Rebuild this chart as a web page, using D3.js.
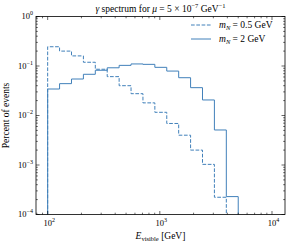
<!DOCTYPE html>
<html>
<head>
<meta charset="utf-8">
<script src="https://cdn.jsdelivr.net/npm/d3@7"></script>
<style>
  body { margin: 0; background: #fff; }
  svg { font-family: "Liberation Serif", serif; }
</style>
</head>
<body>
<svg id="chart"></svg>
<script>
// bin edges: 16 log-uniform bins from 100 to 5000 GeV
const binLo = 100;
const binHi = 5000;
const nBins = 16;

const light = [0.245, 0.20, 0.16, 0.119, 0.086, 0.061, 0.040, 0.0276, 0.018, 0.0116,
               0.0069, 0.0040, 0.0020, 0.00103, 0.000223];
const heavy = [0.0343, 0.044, 0.0546, 0.068, 0.082, 0.092, 0.103, 0.110, 0.108, 0.094,
               0.079, 0.058, 0.0365, 0.0206, 0.0051, 0.00023];

const xTickVals = [1e2, 1e3, 1e4];
const yTickVals = [1e-4, 1e-3, 1e-2, 1e-1, 1e0];

const W = 294, H = 245;
const margin = { top: 16.5, right: 9, bottom: 30.5, left: 36 };
const width = W - margin.left - margin.right;
const height = H - margin.top - margin.bottom;
const color = '#4180ba';

const edges = d3.range(nBins + 1).map(i =>
  Math.pow(10, Math.log10(binLo) + i * (Math.log10(binHi) - Math.log10(binLo)) / nBins));

const x = d3.scaleLog().domain([Math.pow(10, 1.896), Math.pow(10, 4.116)]).range([0, width]);
const y = d3.scaleLog().domain([1e-4, 1]).range([height, 0]);

const svg = d3.select('#chart').attr('width', W).attr('height', H);
const g = svg.append('g').attr('transform', `translate(${margin.left},${margin.top})`);

svg.append('defs').append('clipPath').attr('id', 'clip')
  .append('rect').attr('width', width).attr('height', height);

// step outline from bottom, across, back to bottom
function stepPath(vals) {
  const pts = [[x(edges[0]), height + 5]];
  vals.forEach((v, i) => {
    pts.push([x(edges[i]), y(v)]);
    pts.push([x(edges[i + 1]), y(v)]);
  });
  pts.push([x(edges[vals.length]), height + 5]);
  return d3.line()(pts);
}

const plot = g.append('g').attr('clip-path', 'url(#clip)');
plot.append('path').attr('d', stepPath(light))
  .attr('fill', 'none').attr('stroke', color).attr('stroke-width', 1)
  .attr('stroke-dasharray', '3.7,1.6');
plot.append('path').attr('d', stepPath(heavy))
  .attr('fill', 'none').attr('stroke', color).attr('stroke-width', 1);

// ticks, inward on all sides
function minorTicks(lo, hi) {
  const out = [];
  for (let e = Math.floor(Math.log10(lo)); e <= Math.ceil(Math.log10(hi)); e++)
    for (let m = 2; m <= 9; m++) {
      const v = m * Math.pow(10, e);
      if (v > lo && v < hi) out.push(v);
    }
  return out;
}
const xMinor = minorTicks(x.domain()[0], x.domain()[1]);
const yMinor = minorTicks(1e-4, 1);
const tk = g.append('g').attr('stroke', '#000').attr('stroke-width', 0.6);
xTickVals.forEach(v => {
  tk.append('line').attr('x1', x(v)).attr('x2', x(v)).attr('y1', height).attr('y2', height - 3.5);
  tk.append('line').attr('x1', x(v)).attr('x2', x(v)).attr('y1', 0).attr('y2', 3.5);
});
xMinor.forEach(v => {
  tk.append('line').attr('x1', x(v)).attr('x2', x(v)).attr('y1', height).attr('y2', height - 1.8);
  tk.append('line').attr('x1', x(v)).attr('x2', x(v)).attr('y1', 0).attr('y2', 1.8);
});
yTickVals.forEach(v => {
  tk.append('line').attr('y1', y(v)).attr('y2', y(v)).attr('x1', 0).attr('x2', 3.5);
  tk.append('line').attr('y1', y(v)).attr('y2', y(v)).attr('x1', width).attr('x2', width - 3.5);
});
yMinor.forEach(v => {
  tk.append('line').attr('y1', y(v)).attr('y2', y(v)).attr('x1', 0).attr('x2', 1.8);
  tk.append('line').attr('y1', y(v)).attr('y2', y(v)).attr('x1', width).attr('x2', width - 1.8);
});

g.append('rect').attr('width', width).attr('height', height)
  .attr('fill', 'none').attr('stroke', '#000').attr('stroke-width', 0.8);

// tick labels as 10^n
function powLabel(sel, v) {
  const e = Math.round(Math.log10(v));
  sel.append('tspan').text('10');
  sel.append('tspan').attr('dy', -3.8).attr('font-size', 6)
    .text(e < 0 ? '\u2212' + (-e) : String(e));
}
xTickVals.forEach(v => {
  const t = g.append('text').attr('x', x(v) + 1.5).attr('y', height + 11.5)
    .attr('text-anchor', 'middle').attr('font-size', 8.5);
  powLabel(t, v);
});
yTickVals.forEach(v => {
  const t = g.append('text').attr('x', -3).attr('y', y(v) + 2.5)
    .attr('text-anchor', 'end').attr('font-size', 8.5);
  powLabel(t, v);
});

// axis labels
const xl = g.append('text').attr('x', width / 2).attr('y', height + 24.5)
  .attr('text-anchor', 'middle').attr('font-size', 9.5);
xl.append('tspan').attr('font-style', 'italic').text('E');
xl.append('tspan').attr('font-size', 6.5).attr('dy', 1.8).text('visible');
xl.append('tspan').attr('dy', -1.8).text(' [GeV]');

g.append('text').attr('transform', `translate(${-27.5},${height / 2}) rotate(-90)`)
  .attr('text-anchor', 'middle').attr('font-size', 9.5).text('Percent of events');

// title
const tt = g.append('text').attr('x', width / 2).attr('y', -5)
  .attr('text-anchor', 'middle').attr('font-size', 9.5);
tt.append('tspan').attr('font-style', 'italic').text('\u03b3');
tt.append('tspan').text(' spectrum for ');
tt.append('tspan').attr('font-style', 'italic').text('\u03bc');
tt.append('tspan').text(' = 5 \u00d7 10');
tt.append('tspan').attr('font-size', 6.5).attr('dy', -3.8).text('\u22127');
tt.append('tspan').attr('dy', 3.8).text(' GeV');
tt.append('tspan').attr('font-size', 6.5).attr('dy', -3.8).text('\u22121');

// legend
const legendItems = [
  { label: '0.5 GeV', dash: '3.7,1.6' },
  { label: '2 GeV', dash: null }
];
const lg = g.append('g').attr('transform', `translate(${191 - margin.left},${25 - margin.top})`);
legendItems.forEach((d, i) => {
  const row = lg.append('g').attr('transform', `translate(0,${i * 14})`);
  row.append('line').attr('x1', 0).attr('x2', 20).attr('y1', 0).attr('y2', 0)
    .attr('stroke', color).attr('stroke-width', 1)
    .attr('stroke-dasharray', d.dash);
  const t = row.append('text').attr('x', 28).attr('y', 3.2).attr('font-size', 9.5);
  t.append('tspan').attr('font-style', 'italic').text('m');
  t.append('tspan').attr('font-style', 'italic').attr('font-size', 6.5).attr('dy', 1.8).text('N');
  t.append('tspan').attr('dy', -1.8).text(' = ' + d.label);
});
</script>
</body>
</html>
